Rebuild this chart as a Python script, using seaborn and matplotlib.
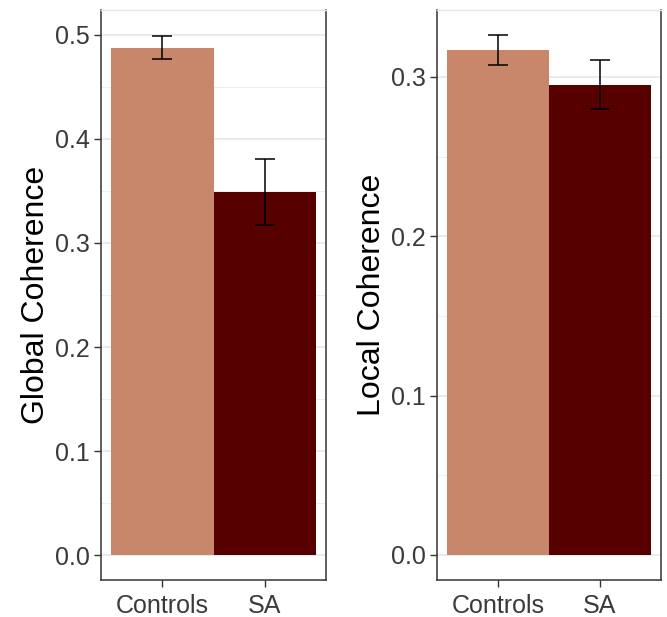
import matplotlib
matplotlib.use("Agg")
import matplotlib.pyplot as plt
import seaborn as sns
import pandas as pd
from matplotlib.ticker import MultipleLocator

groups = ["Controls", "SA"]
global_mean = [0.487, 0.349]
global_lo = [0.4765, 0.317]
global_hi = [0.499, 0.381]
local_mean = [0.3167, 0.2950]
local_lo = [0.3075, 0.2797]
local_hi = [0.3260, 0.3105]
colors = ["#C8866A", "#560000"]

sns.set_theme(style="white")
plt.rcParams["font.family"] = ["Liberation Sans", "DejaVu Sans"]

fig = plt.figure(figsize=(6.67, 6.17), dpi=100)
ax1 = fig.add_axes([101/667, 1-580/617, 225/667, 570/617])
ax2 = fig.add_axes([437/667, 1-580/617, 224/667, 570/617])

def panel(ax, mean, lo, hi, ylabel, major, ylim):
    df = pd.DataFrame({"group": groups, "value": mean})
    ax.set_axisbelow(True)
    ax.yaxis.set_major_locator(MultipleLocator(major))
    ax.yaxis.set_minor_locator(MultipleLocator(major/2))
    ax.grid(which="major", color="#E6E6E6", linewidth=1.1)
    ax.grid(which="minor", axis="y", color="#EEEEEE", linewidth=0.7)
    sns.barplot(data=df, x="group", y="value", hue="group", palette=colors,
                width=1.0, ax=ax, legend=False, saturation=1, linewidth=0, edgecolor="none")
    x = list(range(len(groups)))
    yerr = [[m - l for m, l in zip(mean, lo)], [h - m for m, h in zip(mean, hi)]]
    ax.errorbar(x, mean, yerr=yerr, fmt="none", ecolor="black", elinewidth=1.1,
                capsize=7, capthick=1.1)
    ax.set_xlim(-0.6, 1.6)
    ax.set_ylim(*ylim)
    ax.set_xlabel("")
    ax.set_ylabel(ylabel, fontsize=23, color="black", labelpad=3)
    ax.tick_params(axis="both", which="major", labelsize=18, labelcolor="#3A3A3A",
                   color="#333333", length=5, width=1, direction="out",
                   left=True, bottom=True, pad=3)
    ax.tick_params(axis="x", which="major", pad=5)
    ax.tick_params(which="minor", left=False)
    for s in ["left", "right", "bottom"]:
        ax.spines[s].set_color("#333333")
        ax.spines[s].set_linewidth(1.1)
    ax.spines["top"].set_color("#E5E5E5")
    ax.spines["top"].set_linewidth(1.0)
    ax.yaxis.set_major_formatter(matplotlib.ticker.FormatStrFormatter("%.1f"))

panel(ax1, global_mean, global_lo, global_hi, "Global Coherence", 0.1, (-0.024, 0.524))
panel(ax2, local_mean, local_lo, local_hi, "Local Coherence", 0.1, (-0.0157, 0.342))

fig.savefig("out.png", dpi=100)
